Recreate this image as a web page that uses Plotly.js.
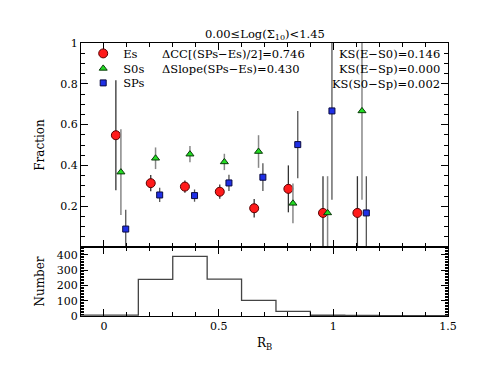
<!DOCTYPE html>
<html>
<head>
<meta charset="utf-8">
<script src="https://cdn.plot.ly/plotly-3.0.1.min.js"></script>
<style>
  body { margin: 0; background: #fff; }
  #plot { width: 496px; height: 383px; }
</style>
</head>
<body>
<div id="plot"></div>
<script>
// fractions per R_B bin (points shifted a little per class)
const rbEs = [0.052, 0.204, 0.353, 0.505, 0.655, 0.804, 0.955, 1.105];
const fracEs = [0.548, 0.313, 0.296, 0.271, 0.19, 0.285, 0.167, 0.167];
const errEs = [0.27, 0.04, 0.03, 0.035, 0.045, 0.115, 0.18, 0.18];

const rbS0 = [0.074, 0.225, 0.375, 0.525, 0.674, 0.824, 0.975, 1.125];
const fracS0 = [0.367, 0.435, 0.455, 0.417, 0.468, 0.214, 0.167, 0.667];
const errS0 = [0.21, 0.053, 0.04, 0.04, 0.08, 0.097, 0.18, 0.435];

const rbSP = [0.095, 0.243, 0.395, 0.545, 0.693, 0.845, 0.994, 1.144];
const fracSP = [0.088, 0.255, 0.252, 0.314, 0.342, 0.502, 0.667, 0.167];
const errSP = [0.094, 0.035, 0.03, 0.04, 0.068, 0.165, 0.435, 0.18];

// histogram of R_B
const binEdges = [-0.15, 0, 0.15, 0.3, 0.45, 0.6, 0.75, 0.9, 1.05, 1.2, 1.35, 1.5];
const binCounts = [6, 6, 240, 390, 242, 102, 30, 5, 4, 2, 2];

const labelTitle = '0.00\u2264Log(\u03A3<sub>10</sub>)<1.45';
const statsLeft = ['\u0394CC[(SPs\u2212Es)/2]=0.746', '\u0394Slope(SPs\u2212Es)=0.430'];
const statsRight = ['KS(E\u2212S0)=0.146', 'KS(E\u2212Sp)=0.000', 'KS(S0\u2212Sp)=0.002'];

const font = 'DejaVu Serif';

// step outline built from the bin edges
const histX = binEdges.slice();
const histY = binCounts.concat([binCounts[binCounts.length - 1]]);

const traces = [
  {
    x: rbEs, y: fracEs, mode: 'markers', name: 'Es', legend: 'legend',
    marker: { symbol: 'circle', size: 9, color: '#ff1a1a', line: { color: '#5a0000', width: 1 } },
    error_y: { type: 'data', array: errEs, visible: true, color: '#333', thickness: 1.3, width: 0 }
  },
  {
    x: rbS0, y: fracS0, mode: 'markers', name: 'S0s', legend: 'legend2',
    marker: { symbol: 'triangle-up', size: 7, color: '#22dd22', line: { color: '#0a3a0a', width: 1 } },
    error_y: { type: 'data', array: errS0, visible: true, color: '#888', thickness: 1.5, width: 0 }
  },
  {
    x: rbSP, y: fracSP, mode: 'markers', name: 'SPs', legend: 'legend3',
    marker: { symbol: 'square', size: 6, color: '#1f2fe6', line: { color: '#0a0a40', width: 1 } },
    error_y: { type: 'data', array: errSP, visible: true, color: '#555', thickness: 1.3, width: 0 }
  },
  {
    x: histX, y: histY, xaxis: 'x2', yaxis: 'y2', mode: 'lines', showlegend: false,
    line: { shape: 'hv', color: '#444', width: 1.3 }
  }
];

const ax = {
  showline: true, linecolor: '#000', linewidth: 1, mirror: 'allticks',
  ticks: 'inside', ticklen: 7, tickcolor: '#000', showgrid: false, zeroline: false,
  tickfont: { family: font, size: 11, color: '#000' }
};

const annotations = [
  { text: labelTitle, x: 0.5, y: 1, xref: 'paper', yref: 'paper', xanchor: 'center', yanchor: 'bottom', yshift: -1, showarrow: false, font: { size: 11.5 } }
];
statsLeft.forEach((t, i) => annotations.push({
  text: t, x: 0.214, y: 0.994 - i * 0.055, xref: 'paper', yref: 'paper', xanchor: 'left', yanchor: 'top', showarrow: false, font: { size: 11.5 }
}));
statsRight.forEach((t, i) => annotations.push({
  text: t, x: 0.985, y: 0.994 - i * 0.055, xref: 'paper', yref: 'paper', xanchor: 'right', yanchor: 'top', showarrow: false, font: { size: 11.5 }
}));

const split = 69 / 273;

function legendAt(y) {
  return {
    x: 0.006, y: y, xanchor: 'left', yanchor: 'top',
    bgcolor: 'rgba(0,0,0,0)', borderwidth: 0,
    font: { family: font, size: 11.5 }, itemwidth: 30
  };
}

const layout = {
  width: 496, height: 383,
  margin: { l: 81, r: 48, t: 43, b: 67 },
  paper_bgcolor: '#fff', plot_bgcolor: '#fff',
  font: { family: font, size: 11, color: '#000' },
  showlegend: true,
  legend: legendAt(1.015),
  legend2: legendAt(0.960),
  legend3: legendAt(0.907),
  xaxis: Object.assign({}, ax, {
    domain: [0, 1], range: [-0.1, 1.5], anchor: 'y', showticklabels: false,
    tick0: 0, dtick: 0.5, minor: { ticks: 'inside', ticklen: 4, tick0: 0, dtick: 0.1, tickcolor: '#000' }
  }),
  yaxis: Object.assign({}, ax, {
    domain: [split, 1], range: [0, 1], anchor: 'x',
    tickmode: 'array', tickvals: [0.2, 0.4, 0.6, 0.8, 1],
    minor: { ticks: 'inside', ticklen: 4, tickmode: 'linear', tick0: 0, dtick: 0.05, tickcolor: '#000' },
    title: { text: 'Fraction', font: { family: font, size: 12 }, standoff: 13 }
  }),
  xaxis2: Object.assign({}, ax, {
    domain: [0, 1], range: [-0.1, 1.5], anchor: 'y2', matches: 'x',
    tick0: 0, dtick: 0.5, minor: { ticks: 'inside', ticklen: 4, tick0: 0, dtick: 0.1, tickcolor: '#000' },
    title: { text: 'R<sub>B</sub>', font: { family: font, size: 12 }, standoff: 6 }
  }),
  yaxis2: Object.assign({}, ax, {
    domain: [0, split], range: [0, 452], anchor: 'x2',
    tick0: 0, dtick: 100,
    minor: { ticks: 'inside', ticklen: 3, tick0: 0, dtick: 10, tickcolor: '#000' },
    title: { text: 'Number', font: { family: font, size: 12 }, standoff: 9 }
  }),
  annotations: annotations
};

Plotly.newPlot('plot', traces, layout, { displayModeBar: false, staticPlot: true });
</script>
</body>
</html>
